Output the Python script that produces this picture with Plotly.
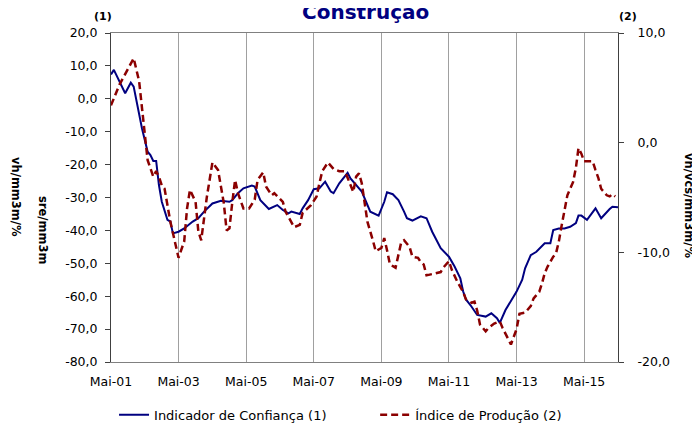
import pandas as pd
import plotly.graph_objects as go

# ---- data (months counted from May 2001) ----
start = pd.Timestamp("2001-05-01")

conf_months = [0, 1, 5, 7, 8, 10, 11, 13, 14, 15, 16, 17, 18, 20, 21, 22, 24, 26, 29, 31,
               33, 36, 39, 42, 43, 45, 47, 50, 51, 53, 55, 56, 59, 61, 63, 64, 67, 68, 70, 71,
               72, 74, 76, 78, 79, 81, 84, 85, 89, 92, 95, 97, 98, 100, 102, 104, 105, 107, 110, 112,
               114, 117, 120, 122, 124, 125, 126, 128, 130, 133, 135, 137, 138, 140, 142, 144, 146, 147, 149, 151,
               154, 156, 157, 159, 161, 163, 165, 166, 167, 169, 172, 174, 177, 178, 180]
conf_values = [7.4, 8.8, 1.7, 4.9, 3.7, -5.4, -9.0, -16.1, -17.1, -18.9, -18.9, -26.2, -31.3, -36.8, -37.3, -40.9, -40.4, -39.4, -37.3, -36.3,
               -34.3, -31.8, -31.0, -31.3, -30.8, -28.7, -27.2, -26.4, -26.7, -30.8, -32.8, -33.5, -32.3, -33.8, -34.8, -34.3, -35.0, -33.3, -30.8, -29.2,
               -27.5, -27.2, -25.2, -28.2, -28.7, -25.7, -22.5, -24.2, -28.2, -34.3, -35.5, -31.3, -28.4, -29.0, -30.8, -34.3, -36.3, -37.0, -35.7, -36.3,
               -40.4, -45.4, -48.0, -51.0, -54.6, -58.5, -61.0, -63.2, -65.7, -66.2, -65.2, -66.7, -68.1, -64.2, -61.5, -58.6, -55.0, -51.5, -47.5, -46.5,
               -43.9, -43.9, -39.9, -39.4, -39.4, -38.9, -37.8, -35.5, -35.5, -36.8, -33.3, -36.3, -33.5, -32.8, -33.0]

prod_months = [0, 3, 7, 8, 10, 11, 12, 13, 15, 16, 17, 18, 19, 21, 23, 24, 26, 27, 28, 30,
               31, 32, 34, 35, 36, 38, 39, 40, 41, 42, 43, 44, 45, 47, 49, 51, 52, 54, 55, 57,
               58, 61, 62, 64, 65, 67, 68, 71, 73, 74, 75, 77, 79, 81, 83, 84, 86, 87, 88, 89,
               90, 91, 93, 94, 96, 97, 98, 99, 101, 102, 103, 104, 106, 107, 109, 110, 111, 112, 115, 117,
               118, 120, 121, 123, 125, 126, 128, 129, 130, 131, 133, 134, 136, 138, 139, 141, 142, 144, 145, 147,
               149, 150, 152, 153, 154, 155, 157, 158, 159, 160, 161, 162, 164, 165, 166, 167, 168, 170, 171, 172,
               173, 174, 176, 177, 178, 179]
prod_values = [3.4, 5.3, 7.2, 7.7, 5.6, 2.8, 0.8, -1.6, -3.1, -2.6, -3.1, -3.9, -4.2, -7.2, -9.6, -10.5, -9.0, -6.0, -4.3, -5.4,
               -8.1, -8.9, -5.0, -3.5, -1.8, -2.5, -3.9, -5.5, -8.0, -7.8, -5.5, -3.4, -4.6, -6.0, -6.0, -5.2, -3.4, -2.7, -4.0, -4.8,
               -4.6, -5.4, -6.3, -7.2, -7.7, -7.5, -6.4, -5.7, -4.9, -3.7, -2.6, -1.8, -2.4, -2.6, -2.6, -3.2, -4.5, -3.1, -2.8, -3.7,
               -5.5, -7.2, -9.0, -9.9, -9.6, -8.7, -9.8, -11.1, -11.4, -10.1, -9.1, -8.9, -9.5, -10.4, -10.5, -10.9, -11.1, -12.1, -11.9, -11.8,
               -11.4, -10.8, -11.6, -12.7, -13.6, -14.3, -14.6, -14.5, -15.3, -16.6, -17.2, -16.9, -16.5, -16.3, -16.9, -18.0, -18.4, -17.0, -15.6, -15.5,
               -14.9, -14.2, -13.6, -12.8, -11.9, -11.3, -10.4, -10.1, -9.0, -7.5, -6.1, -4.8, -3.6, -2.3, -0.5, -1.0, -1.7, -1.7, -1.7, -2.5,
               -3.2, -4.2, -4.8, -4.9, -4.7, -4.9]

x_tick_months = [0, 24, 48, 72, 96, 120, 144, 168]
x_tick_labels = ["Mai-01", "Mai-03", "Mai-05", "Mai-07", "Mai-09", "Mai-11", "Mai-13", "Mai-15"]
left_ticks = [20, 10, 0, -10, -20, -30, -40, -50, -60, -70, -80]
right_ticks = [10, 0, -10, -20]

series_names = ["Indicador de Confiança (1)", "Índice de Produção (2)"]


def to_dates(months):
    return [start + pd.DateOffset(months=m) for m in months]


def fmt(v):
    return f"{v:.1f}".replace(".", ",")


FONT = "DejaVu Sans"
# the page body adds an 8px offset; the figure is sized to compensate
OFF = 8

fig = go.Figure()
fig.add_trace(go.Scatter(x=to_dates(conf_months), y=conf_values, mode="lines",
                         name=series_names[0], legend="legend",
                         line=dict(color="#000080", width=2)))
fig.add_trace(go.Scatter(x=to_dates(prod_months), y=prod_values, mode="lines",
                         name=series_names[1], yaxis="y2", legend="legend2",
                         line=dict(color="#8B0000", width=2.5, dash="7px,4px")))

leg_common = dict(orientation="h", xanchor="left", y=-0.115, yanchor="top",
                  font=dict(size=13), bgcolor="rgba(0,0,0,0)")

fig.update_layout(
    width=700 - OFF, height=430 - OFF,
    margin=dict(l=111 - OFF, r=82, t=33 - OFF, b=68, autoexpand=False),
    paper_bgcolor="white", plot_bgcolor="white",
    font=dict(family=FONT, size=12, color="black"),
    showlegend=True,
    legend=dict(x=0.006, **leg_common),
    legend2=dict(x=0.521, **leg_common),
    xaxis=dict(
        type="date",
        range=[start, start + pd.DateOffset(months=180)],
        tickmode="array",
        tickvals=to_dates(x_tick_months),
        ticktext=x_tick_labels,
        showgrid=True, gridcolor="#a0a0a0", gridwidth=1,
        showline=True, linecolor="#808080", linewidth=1, mirror=True,
        ticks="", tickfont=dict(size=12.5), ticklabelstandoff=8,
        zeroline=False,
    ),
    yaxis=dict(
        range=[-80, 20],
        tickmode="array", tickvals=left_ticks, ticktext=[fmt(v) for v in left_ticks],
        showgrid=False, zeroline=False,
        showline=True, linecolor="#404040", linewidth=1,
        ticks="outside", ticklen=5, tickcolor="#404040",
        tickfont=dict(size=12.5), ticklabelstandoff=5,
    ),
    yaxis2=dict(
        range=[-20, 10], overlaying="y", side="right",
        tickmode="array", tickvals=right_ticks, ticktext=[fmt(v) for v in right_ticks],
        showgrid=False, zeroline=False,
        showline=True, linecolor="#404040", linewidth=1,
        ticks="outside", ticklen=5, tickcolor="#404040",
        tickfont=dict(size=12.5), ticklabelstandoff=11,
    ),
)

# label positions, in window pixels
pl, pr, pt, pb = 111, 618, 33, 362
labels = [
    ("<b>Construção</b>", 365, 12, 0, 20, "#000080"),
    ("<b>(1)</b>", 103, 17, 0, 11, "black"),
    ("<b>(2)</b>", 628, 17, 0, 11, "black"),
    ("<b>vh/mm3m/%</b>", 16, 197, 90, 11.5, "black"),
    ("<b>sre/mm3m</b>", 43, 230, 90, 11.5, "black"),
    ("<b>vh/vcs/mm3m/%</b>", 689, 205, 90, 11.5, "black"),
]
fig.update_layout(annotations=[
    dict(text=t, x=(px - pl) / (pr - pl), y=(pb - py) / (pb - pt),
         xref="paper", yref="paper", xanchor="center", yanchor="middle",
         textangle=ang, showarrow=False, font=dict(size=sz, color=col, family=FONT))
    for t, px, py, ang, sz, col in labels
])

fig.write_html("out.html")
